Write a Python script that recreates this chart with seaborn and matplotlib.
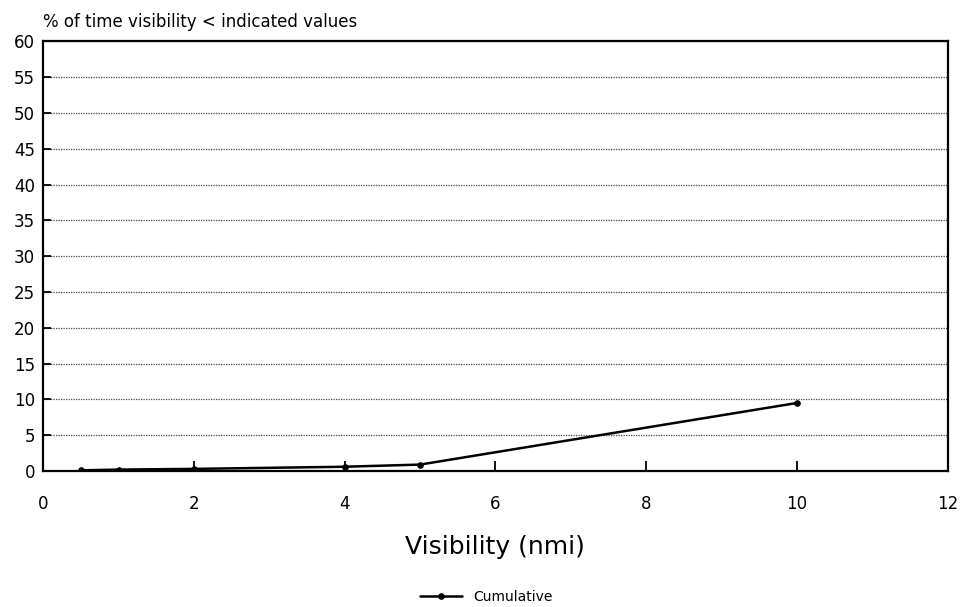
import numpy as np
import pandas as pd
import seaborn as sns
import matplotlib.pyplot as plt

# visibility thresholds (nmi) and cumulative % of time below them
visibility = [0.5, 1, 2, 4, 5, 10]
cumulative = [0.1, 0.2, 0.3, 0.6, 0.9, 9.5]

df = pd.DataFrame({"Visibility": visibility, "Cumulative": cumulative})

sns.set_style("white")
plt.rcParams["font.family"] = ["DejaVu Sans"]
plt.rcParams["text.color"] = "black"
plt.rcParams["xtick.color"] = "black"
plt.rcParams["ytick.color"] = "black"

fig = plt.figure(figsize=(9.62, 6.07), dpi=100)
ax = fig.add_axes([0.045, 0.224, 0.94, 0.708])

sns.lineplot(data=df, x="Visibility", y="Cumulative", ax=ax, color="black",
             linewidth=1.8, marker="o", markersize=4, markeredgecolor="black",
             label="Cumulative")

ax.set_xlim(0, 12)
ax.set_ylim(0, 60)
ax.set_xticks(range(0, 13, 2))
ax.set_yticks(range(0, 61, 5))
ax.yaxis.grid(True, linestyle=(0, (1, 1)), color="#444444", linewidth=0.9)
ax.tick_params(axis="x", direction="in", length=7, width=1.3, labelsize=12, pad=17)
ax.tick_params(axis="y", direction="in", length=6, width=1.3, labelsize=12, pad=6)
ax.tick_params(bottom=True, left=True)
for s in ax.spines.values():
    s.set_color("black")
    s.set_linewidth(1.6)

ax.set_ylabel("")
ax.set_xlabel("Visibility (nmi)", color="black", fontsize=18, labelpad=16)
ax.text(0.0, 1.025, "% of time visibility < indicated values", transform=ax.transAxes,
        fontsize=12, ha="left", va="bottom")

ax.legend(loc="center", bbox_to_anchor=(0.49, -0.292), frameon=False,
          fontsize=10, handlelength=3)

fig.savefig("out.png", dpi=100)
